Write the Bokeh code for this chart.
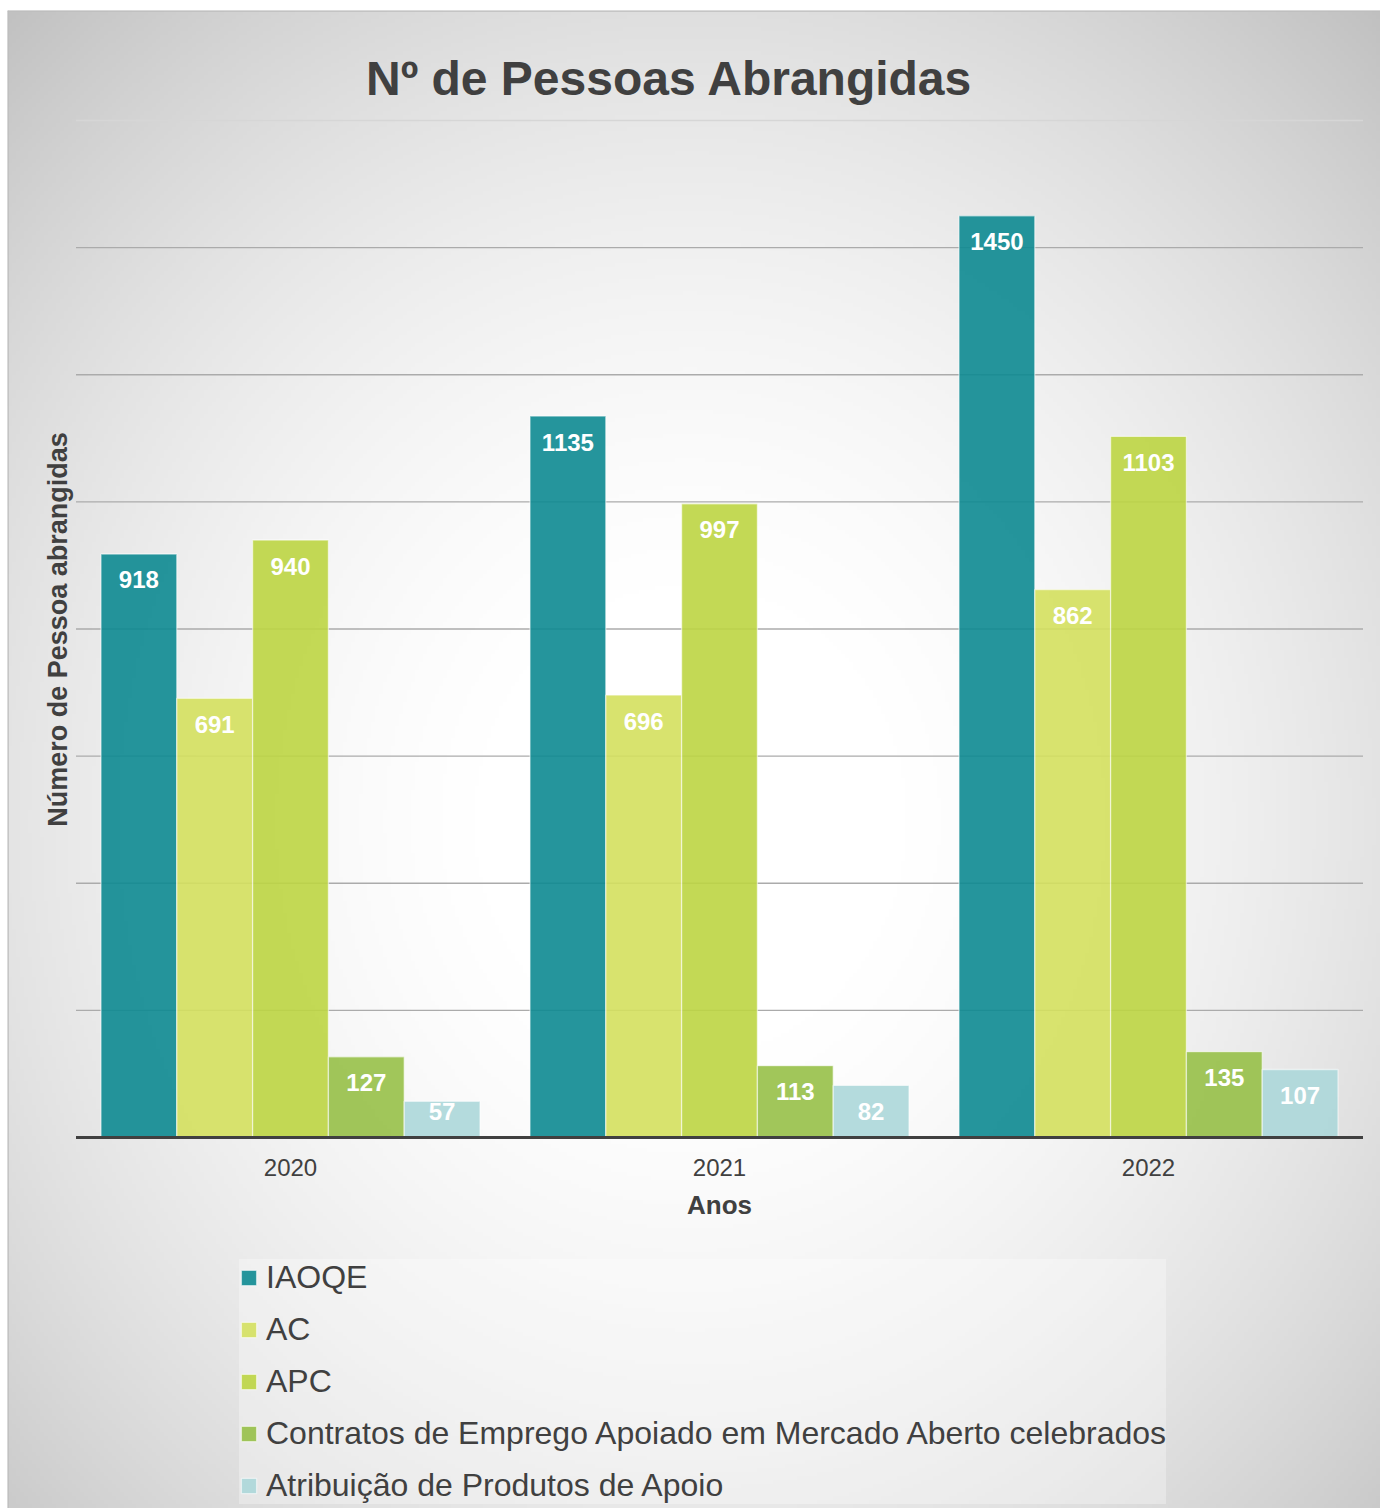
import numpy as np
from bokeh.plotting import figure
from bokeh.models import Range1d, ColumnDataSource, Legend, LegendItem
from bokeh.transform import dodge
from bokeh.core.properties import value
from bokeh.embed import file_html
from bokeh.resources import INLINE

# ---------------- data ----------------
years = ["2020", "2021", "2022"]
series_names = [
    "IAOQE",
    "AC",
    "APC",
    "Contratos de Emprego Apoiado em Mercado Aberto celebrados",
    "Atribuição de Produtos de Apoio",
]
iaoqe = [918, 1135, 1450]
ac = [691, 696, 862]
apc = [940, 997, 1103]
contratos = [127, 113, 135]
produtos = [57, 82, 107]
y_ticks = [200, 400, 600, 800, 1000, 1200, 1400, 1600]

title_text = "Nº de Pessoas Abrangidas"
y_label = "Número de Pessoa abrangidas"
x_label = "Anos"

# ---------------- styles ----------------
colors = ["#0d8a91", "#d4e05e", "#bcd542", "#97c048", "#acd7d9"]
FONT_NAME = "Liberation Sans"
FONT = value(FONT_NAME)
TXT = "#404040"

W, H = 1380, 1508
BL, BT = 7, 10          # white margin left / top of the chart card
# page geometry of the plotting area
left_px, right_px = 75.5, 1362.5
base_px, top_px = 1137.0, 120.0
ymax = 1600.0
fx0, fx1 = BL, W
fy0, fy1 = BT, H

ncat = len(years)
unit = (right_px - left_px) / ncat
ppu = (base_px - top_px) / ymax
xs = (fx0 - left_px) / unit
xe = (fx1 - left_px) / unit
ys = -(fy1 - base_px) / ppu
ye = (base_px - fy0) / ppu

p = figure(width=W, height=H, x_range=Range1d(xs, xe), y_range=Range1d(ys, ye),
           output_backend="svg", toolbar_location=None,
           x_axis_location=None, y_axis_location=None,
           min_border=0, min_border_left=BL, min_border_top=BT, title=None)
p.border_fill_color = "white"
p.outline_line_color = None
p.grid.visible = False
p.background_fill_color = "#e6e6e6"

p.extra_x_ranges = {"px": Range1d(fx0, fx1)}
p.extra_y_ranges = {"py": Range1d(fy1, fy0), "pyu": Range1d(0, fy1 - fy0)}

# ---------------- background radial gradient ----------------
nx, ny = (fx1 - fx0) // 4 + 1, (fy1 - fy0) // 4 + 1
gx = fx0 + (np.arange(nx) + 0.5) * ((fx1 - fx0) / nx)
gy = fy1 - (np.arange(ny) + 0.5) * ((fy1 - fy0) / ny)
X, Y = np.meshgrid(gx, gy)
d2 = ((X - 690) / 760) ** 2 + ((Y - 820) / 830) ** 2
v = np.clip(258 - 37 * d2, 0, 255).astype(np.uint8)
img = np.empty((ny, nx), dtype=np.uint32)
view = img.view(dtype=np.uint8).reshape((ny, nx, 4))
view[..., 0] = v
view[..., 1] = v
view[..., 2] = v
view[..., 3] = 255
p.image_rgba(image=[img], x=fx0, y=0, dw=fx1 - fx0, dh=fy1 - fy0,
             x_range_name="px", y_range_name="pyu")

# chart border (left / top)
p.segment(x0=[fx0 + 0.5, fx0], y0=[fy0, fy0 + 0.5], x1=[fx0 + 0.5, fx1], y1=[fy1, fy0 + 0.5],
          line_color="#bdbdbd", line_width=1.5, x_range_name="px", y_range_name="py")

# ---------------- gridlines ----------------
grid_colors = ["#ababab"] * (len(y_ticks) - 1) + ["#d6d6d6"]
p.segment(x0=[0] * len(y_ticks), x1=[ncat] * len(y_ticks), y0=y_ticks, y1=y_ticks,
          line_color=grid_colors, line_width=1.3)

# ---------------- bars ----------------
xi = list(np.arange(ncat) + 0.5)
all_series = [iaoqe, ac, apc, contratos, produtos]
data = {"x": xi}
for k, s in enumerate(all_series):
    data[f"s{k}"] = s
    data[f"t{k}"] = [str(val) for val in s]
    data[f"o{k}"] = [26 if val * ppu >= 50 else 10 for val in s]
src = ColumnDataSource(data)

bar_w = 0.1767
renderers = []
for k in range(len(all_series)):
    off = (k - 2) * bar_w
    r = p.vbar(x=dodge("x", off), top=f"s{k}", bottom=0, width=bar_w, source=src,
               fill_color=colors[k], fill_alpha=0.9,
               line_color="white", line_alpha=0.55, line_width=1.3)
    renderers.append(r)
    p.text(x=dodge("x", off), y=f"s{k}", text=f"t{k}", y_offset=f"o{k}", source=src,
           text_align="center", text_baseline="middle", text_color="white",
           text_font=FONT, text_font_style="bold", text_font_size="24px")

# baseline axis
p.segment(x0=[0], x1=[ncat], y0=[0], y1=[0], line_color="#404040", line_width=3)

# category labels
p.text(x=xi, y=[0] * ncat, text=years, y_offset=30, text_align="center",
       text_baseline="middle", text_color=TXT, text_font=FONT, text_font_size="24px")

# ---------------- titles ----------------
p.text(x=[669], y=[78], text=[title_text], x_range_name="px", y_range_name="py",
       text_align="center", text_baseline="middle", text_color=TXT, text_font=FONT,
       text_font_style="bold", text_font_size="48px")
p.text(x=[57], y=[629], text=[y_label], angle=np.pi / 2, x_range_name="px", y_range_name="py",
       text_align="center", text_baseline="middle", text_color=TXT, text_font=FONT,
       text_font_style="bold", text_font_size="27px")
p.text(x=[719], y=[1204], text=[x_label], x_range_name="px", y_range_name="py",
       text_align="center", text_baseline="middle", text_color=TXT, text_font=FONT,
       text_font_style="bold", text_font_size="26px")

# ---------------- legend ----------------
items = [LegendItem(label=n, renderers=[r]) for n, r in zip(series_names, renderers)]
legend = Legend(items=items, location=(239 - fx0, 4), orientation="vertical",
                label_text_font=FONT_NAME, label_text_font_size="32px", label_text_color=TXT,
                glyph_width=19, glyph_height=19, label_standoff=8,
                label_height=37, spacing=15, padding=8, margin=0,
                background_fill_color="white", background_fill_alpha=0.3,
                border_line_color=None)
p.add_layout(legend)

open("out.html", "w").write(file_html(p, INLINE))
